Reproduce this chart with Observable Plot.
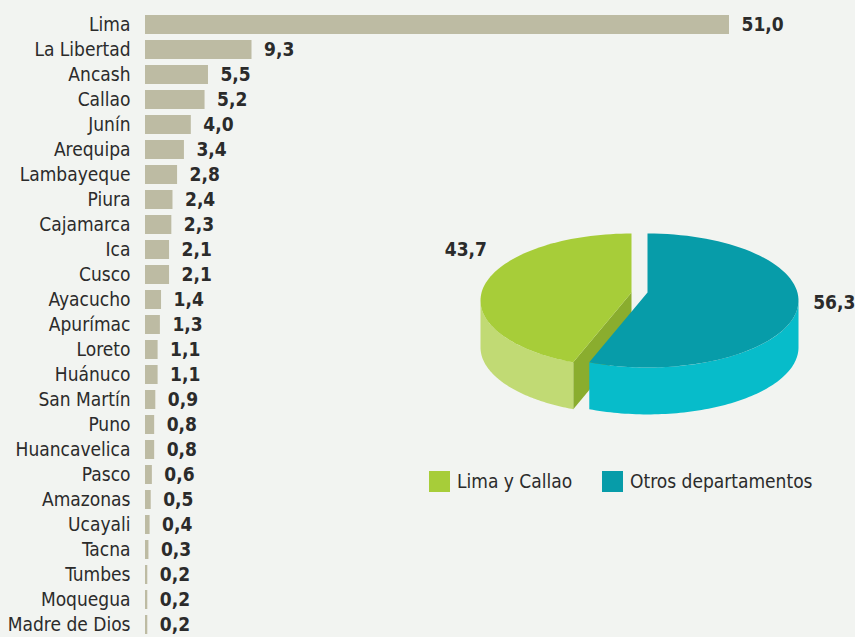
<!DOCTYPE html>
<html>
<head>
<meta charset="utf-8">
<script src="https://cdn.jsdelivr.net/npm/d3@7"></script>
<script src="https://cdn.jsdelivr.net/npm/@observablehq/plot@0.6"></script>
<style>
  html, body { margin: 0; padding: 0; background: #f2f4f1; }
  #wrap { position: relative; width: 855px; height: 637px; overflow: hidden;
          font-family: "Liberation Sans Narrow", "DejaVu Sans Condensed", "Roboto", sans-serif; color: #2b2b2b; }
  #wrap svg { position: absolute; left: 0; top: 0; background: transparent; }
  .legend { position: absolute; top: 471px; font-size: 19px; line-height: 21px; display: flex; align-items: center; }
  .legend .sw { width: 21px; height: 21px; margin-right: 7px; }
</style>
</head>
<body>
<div id="wrap"></div>
<script>
// ---- Data ----
const departamentos = ["Lima","La Libertad","Ancash","Callao","Junín","Arequipa","Lambayeque","Piura","Cajamarca","Ica","Cusco","Ayacucho","Apurímac","Loreto","Huánuco","San Martín","Puno","Huancavelica","Pasco","Amazonas","Ucayali","Tacna","Tumbes","Moquegua","Madre de Dios"];
const porcentajes = [51.0,9.3,5.5,5.2,4.0,3.4,2.8,2.4,2.3,2.1,2.1,1.4,1.3,1.1,1.1,0.9,0.8,0.8,0.6,0.5,0.4,0.3,0.2,0.2,0.2];
const pieLabels = ["Lima y Callao","Otros departamentos"];
const pieValues = [43.7, 56.3];

// ---- Styles ----
const FONT = '"Liberation Sans Narrow", "DejaVu Sans Condensed", "Roboto", sans-serif';
const barColor = "#bdbba3";
const textColor = "#2b2b2b";
const fmt = v => v.toFixed(1).replace(".", ",");

const rows = departamentos.map((d, i) => ({dep: d, val: porcentajes[i]}));
const wrap = document.getElementById("wrap");

const bars = Plot.plot({
  width: 855, height: 637,
  marginLeft: 145, marginRight: 126, marginTop: 13.5, marginBottom: 2,
  style: {background: "transparent", fontFamily: FONT, fontSize: "19px", color: textColor},
  x: {domain: [0, 51], axis: null},
  y: {domain: departamentos, paddingInner: 0.24, paddingOuter: 0, label: null},
  marks: [
    Plot.barX(rows, {y: "dep", x: "val", fill: barColor}),
    Plot.axisY({tickSize: 0, tickPadding: 15, fontSize: 19, fill: textColor, label: null}),
    Plot.text(rows, {y: "dep", x: "val", text: d => fmt(d.val), dx: 12, textAnchor: "start",
      fontWeight: "bold", fontSize: 19, fill: textColor})
  ]
});
wrap.appendChild(bars);

// ---- 3D pie ----
const total = d3.sum(pieValues);
const a0 = 0;
const split = 2 * Math.PI * pieValues[1] / total; // teal goes clockwise from top
const depth = 0.7;       // extrusion, in y units
const vy = 0.12;         // perspective shift of the apex
const ex = 0.053;        // explode offset
function arc(cx, t0, t1, dy = 0, n = 80) {
  const pts = [];
  for (let i = 0; i <= n; i++) {
    const t = t0 + (t1 - t0) * i / n;
    pts.push([cx + Math.sin(t), Math.cos(t) - dy]);
  }
  return pts;
}
const tealTop = [[ex, vy], ...arc(ex, a0, split), [ex, vy]];
const tealSide = [...arc(ex, Math.PI / 2, split), ...arc(ex, Math.PI / 2, split, depth).reverse()];
const greenTop = [[-ex, vy], ...arc(-ex, split, 2 * Math.PI), [-ex, vy]];
const greenSide = [...arc(-ex, split, 3 * Math.PI / 2), ...arc(-ex, split, 3 * Math.PI / 2, depth).reverse()];
const gEdge = [-ex + Math.sin(split), Math.cos(split)];
const greenCut = [[-ex, vy], gEdge, [gEdge[0], gEdge[1] - depth], [-ex, vy - depth]];

const poly = (pts, fill) => Plot.line(pts, {x: d => d[0], y: d => d[1], fill, stroke: "none", curve: "linear"});

const pie = Plot.plot({
  width: 855, height: 637,
  marginLeft: 488, marginRight: 65, marginTop: 233, marginBottom: 270,
  style: {background: "transparent", fontFamily: FONT, overflow: "visible"},
  x: {domain: [-1, 1], axis: null},
  y: {domain: [-1, 1], axis: null},
  marks: [
    poly(greenCut, "#8aad2e"),
    poly(greenSide, "#c1da74"),
    poly(greenTop, "#a7cd39"),
    poly(tealSide, "#07bcca"),
    poly(tealTop, "#079ca9"),
    Plot.text([pieValues[0]], {x: -1.15, y: 0.75, text: d => fmt(d), textAnchor: "middle",
      fontWeight: "bold", fontSize: 19, fill: textColor}),
    Plot.text([pieValues[1]], {x: 1.15, y: -0.04, text: d => fmt(d), textAnchor: "start",
      fontWeight: "bold", fontSize: 19, fill: textColor})
  ]
});
wrap.appendChild(pie);

// ---- Legend ----
const legColors = ["#a7cd39", "#079ca9"];
const legLeft = [429, 602];
pieLabels.forEach((lab, i) => {
  const el = document.createElement("div");
  el.className = "legend";
  el.style.left = legLeft[i] + "px";
  el.innerHTML = `<div class="sw" style="background:${legColors[i]}"></div><span>${lab}</span>`;
  wrap.appendChild(el);
});
</script>
</body>
</html>
